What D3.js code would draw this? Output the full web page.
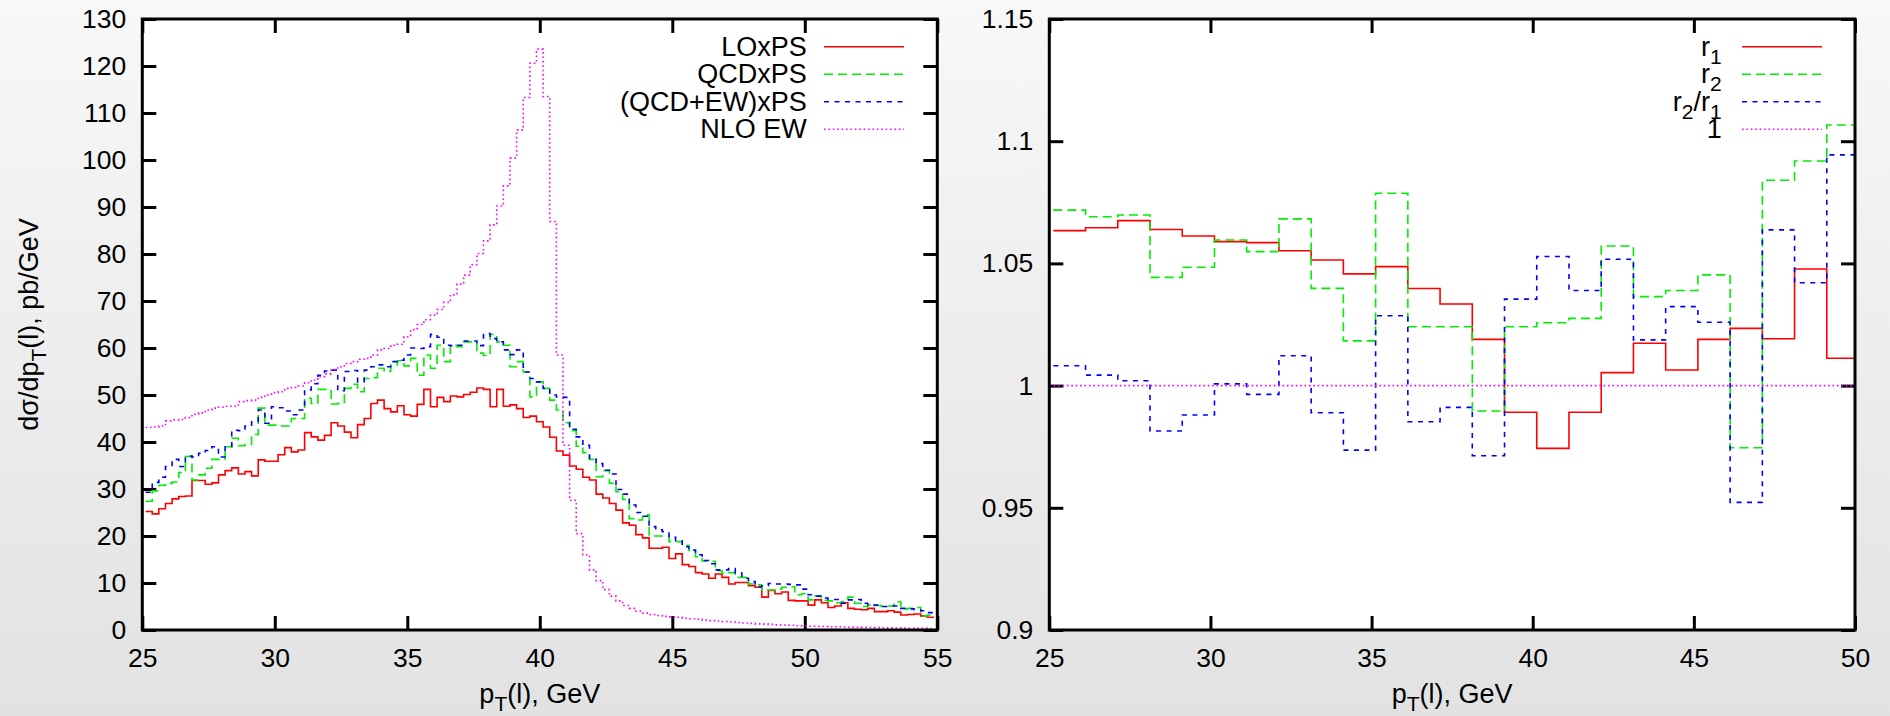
<!DOCTYPE html>
<html><head><meta charset="utf-8">
<script src="https://cdn.jsdelivr.net/npm/d3@7"></script>
<style>
html,body{margin:0;padding:0;background:#fff;}
svg{display:block;}
</style></head><body>
<svg id="chart" width="1890" height="716"></svg>
<script>
// ---------------- data: left panel (dsigma/dpT, 0.25 GeV bins) ----------------
const ptBinWidth = 0.25;
const ptCenters = d3.range(119).map(i => 25.25 + 0.25 * i);
const ptTicks = [25, 30, 35, 40, 45, 50, 55];
const xsTicks = [0, 10, 20, 30, 40, 50, 60, 70, 80, 90, 100, 110, 120, 130];

const loxps = [25.2,24.7,25.8,26.9,27.9,28.4,28.5,31.8,31.8,31.0,31.3,33.0,33.9,34.5,33.2,33.7,32.8,36.2,35.9,35.9,
  37.3,38.8,37.9,38.3,42.0,41.1,40.4,41.4,44.1,43.4,42.1,40.9,43.7,45.0,48.2,48.9,47.1,46.4,47.7,45.8,45.5,
  48.0,51.2,47.5,49.5,48.6,49.8,49.6,50.1,50.6,51.5,51.2,47.5,51.2,47.6,47.9,47.1,45.2,45.5,44.3,43.2,
  41.0,38.1,37.2,34.9,34.2,32.5,31.9,28.9,28.1,26.9,25.5,22.8,22.3,20.3,19.6,17.4,17.4,17.6,15.2,16.2,
  13.9,13.5,12.2,11.9,11.0,11.9,11.2,9.8,10.1,10.1,9.4,9.1,7.0,8.4,7.7,8.1,6.3,6.2,6.2,5.3,
  6.4,5.8,4.8,5.1,5.8,4.6,4.4,4.3,4.6,3.9,3.9,4.1,3.8,3.2,3.3,3.4,3.0,2.7];
const qcdxps = [27.4,29.6,30.8,31.2,31.5,33.5,36.9,31.9,33.0,34.4,36.3,36.3,39.0,40.8,39.2,39.5,41.6,47.2,43.6,43.6,
  43.4,43.4,45.0,45.0,49.3,48.2,51.2,51.2,48.1,48.2,51.4,52.3,50.7,53.5,53.7,55.7,55.0,56.4,57.3,56.2,57.8,
  54.2,58.5,55.7,60.6,57.1,60.6,60.3,61.3,61.3,58.9,58.4,62.9,61.3,60.6,56.0,57.1,54.9,49.6,52.8,51.4,
  48.9,46.8,44.1,42.4,39.1,37.7,36.3,32.6,33.9,31.2,29.4,27.8,23.7,23.4,24.5,20.0,20.0,20.0,18.8,18.8,
  18.0,16.9,15.6,14.7,14.6,12.6,12.1,12.2,11.2,11.2,9.8,9.6,8.5,8.5,8.7,9.1,9.2,7.5,7.7,6.4,
  7.2,6.3,6.2,5.8,6.0,7.0,5.7,5.0,5.3,5.2,5.0,5.1,6.0,4.5,4.6,4.8,3.0,3.2];
const qcdewxps = [29.3,31.4,32.5,34.8,36.3,34.8,37.0,36.8,37.6,38.2,39.0,36.8,39.0,42.5,42.4,43.4,44.3,46.8,44.0,47.5,
  47.3,46.6,45.8,46.8,51.1,52.4,54.2,55.1,55.3,50.9,55.0,55.2,52.8,55.3,56.0,56.4,56.0,57.1,57.4,58.5,60.0,
  59.9,60.3,62.9,62.3,60.6,60.5,60.6,61.5,61.5,60.5,63.1,62.0,61.3,59.6,58.6,59.6,54.9,53.5,52.8,51.4,
  50.0,49.6,49.5,42.7,41.1,39.3,36.3,35.4,34.0,33.2,29.9,28.9,26.6,25.0,24.2,22.0,21.3,20.9,19.7,19.0,
  17.7,17.0,16.0,14.8,14.1,12.8,12.8,13.1,12.1,11.0,10.3,9.2,9.4,9.9,9.8,9.8,9.7,9.6,8.7,7.5,
  7.2,6.8,6.5,6.5,5.7,6.4,6.5,5.7,5.3,5.3,5.0,5.1,5.1,4.6,4.5,4.3,4.1,3.7];
const nloew = [43.1,43.2,43.4,44.5,44.7,44.8,45.2,45.9,46.2,46.8,47.2,47.4,47.6,47.6,48.6,48.8,48.9,49.5,50.0,50.5,
  50.7,51.4,51.6,51.9,52.6,53.2,53.9,54.5,55.4,56.0,56.7,57.1,57.6,57.8,58.5,59.6,59.9,60.6,60.8,62.4,63.9,
  65.0,66.0,67.0,68.2,69.7,71.3,73.6,75.5,77.7,80.1,82.8,86.2,90.2,94.5,100.4,106.4,113.3,120.6,123.6,113.5,
  86.9,58.5,39.3,27.6,20.5,16.0,12.8,10.5,8.6,7.2,6.2,5.2,4.6,4.0,3.6,3.3,3.1,2.9,
  2.8,2.7,2.5,2.4,2.3,2.1,2.0,1.9,1.8,1.7,1.6,1.5,1.4,1.3,1.25,1.2,1.1,1.05,1.0,0.9,
  0.85,0.8,0.78,0.75,0.7,0.68,0.65,0.6,0.58,0.55,0.52,0.5,0.48,0.45,0.42,0.4,0.38,0.36,0.34,0.32];

// ---------------- data: right panel (ratios, 1 GeV bins) ----------------
const ratioBinWidth = 1;
const ratioCenters = d3.range(25).map(k => 25.625 + k);
const ratioXTicks = [25, 30, 35, 40, 45, 50];
const ratioYTicks = [0.9, 0.95, 1, 1.05, 1.1, 1.15];
const r1 = [1.0634,1.0646,1.0675,1.0639,1.0612,1.0589,1.0585,1.0552,1.0514,1.0457,1.0487,1.0397,1.0334,
  1.0189,0.9891,0.9743,0.9891,1.0053,1.0173,1.0064,1.0189,1.0234,1.0192,1.0477,1.0112];
const r2 = [1.0718,1.0691,1.0698,1.0443,1.0484,1.0596,1.0548,1.0682,1.0398,1.0183,1.0787,1.0241,1.0241,
  0.9896,1.0241,1.0257,1.0275,1.0571,1.0364,1.0389,1.0453,0.9746,1.0840,1.0919,1.1066];
const r2r1 = [1.0081,1.0043,1.0020,0.9814,0.9880,1.0007,0.9964,1.0122,0.9889,0.9736,1.0286,0.9852,0.9911,
  0.9713,1.0354,1.0528,1.0389,1.0517,1.0187,1.0323,1.0259,0.9522,1.0637,1.0421,1.0944];
const oneLine = [1, 1];

const leftLegend = ["LOxPS", "QCDxPS", "(QCD+EW)xPS", "NLO EW"];

// ---------------- drawing ----------------
const FONT = '"Liberation Sans", Arial, Helvetica, sans-serif';
const W = 1890, H = 716;
const SUB_DY = 8, SUB_SIZE = 21;
const svg = d3.select("#chart").attr("font-family", FONT);
const defs = svg.append("defs");
const grad = defs.append("linearGradient").attr("id", "bg")
  .attr("x1", 0).attr("y1", 0).attr("x2", 0).attr("y2", 1);
grad.append("stop").attr("offset", "0%").attr("stop-color", "#f8f8f8");
grad.append("stop").attr("offset", "100%").attr("stop-color", "#e2e2e2");
svg.append("rect").attr("width", W).attr("height", H).attr("fill", "url(#bg)");

const styles = [
  {color: "#ff0000", dash: null},
  {color: "#00ee00", dash: "9,5"},
  {color: "#0000ff", dash: "5,5.5"},
  {color: "#ff00ff", dash: "1.6,2.8"}
];

function panel(o) {
  const x = d3.scaleLinear().domain(o.xDomain).range([o.x0, o.x1]);
  const y = d3.scaleLinear().domain(o.yDomain).range([o.y1, o.y0]);
  const g = svg.append("g");
  g.append("rect").attr("x", o.x0).attr("y", o.y0)
    .attr("width", o.x1 - o.x0).attr("height", o.y1 - o.y0).attr("fill", "#fff");
  defs.append("clipPath").attr("id", o.id).append("rect")
    .attr("x", o.x0).attr("y", o.y0).attr("width", o.x1 - o.x0).attr("height", o.y1 - o.y0);
  const ax = (axis, tr) => {
    const a = g.append("g").attr("transform", tr).call(axis);
    a.select(".domain").remove();
    a.attr("font-size", 26.5).attr("font-family", FONT);
    a.selectAll(".tick line").attr("stroke", "#000").attr("stroke-width", 3);
    a.selectAll(".tick text").attr("fill", "#000");
    a.selectAll(".tick text").filter(function () { return this.textContent === ""; }).remove();
    return a;
  };
  ax(d3.axisBottom(x).tickValues(o.xTicks).tickSize(-14).tickPadding(18).tickFormat(d3.format("d")),
     `translate(0,${o.y1})`);
  ax(d3.axisTop(x).tickValues(o.xTicks).tickSize(-14).tickFormat(""), `translate(0,${o.y0})`);
  ax(d3.axisLeft(y).tickValues(o.yTicks).tickSize(-14).tickPadding(16).tickFormat(o.yFmt),
     `translate(${o.x0},0)`);
  ax(d3.axisRight(y).tickValues(o.yTicks).tickSize(-14).tickFormat(""), `translate(${o.x1},0)`);
  const data = g.append("g").attr("clip-path", `url(#${o.id})`);
  g.append("rect").attr("x", o.x0).attr("y", o.y0)
    .attr("width", o.x1 - o.x0).attr("height", o.y1 - o.y0)
    .attr("fill", "none").attr("stroke", "#000").attr("stroke-width", 3);
  return {x, y, g, data};
}

function histPath(p, centers, width, values, st) {
  const pts = centers.map((c, i) => [c - width / 2, values[i]]);
  pts.push([centers[centers.length - 1] + width / 2, values[values.length - 1]]);
  const line = d3.line().x(d => p.x(d[0])).y(d => p.y(d[1])).curve(d3.curveStepAfter);
  p.data.append("path").attr("d", line(pts)).attr("fill", "none")
    .attr("stroke", st.color).attr("stroke-width", 1.6)
    .attr("stroke-dasharray", st.dash);
}

// rich text with subscripts, no empty tspans
function richText(sel, parts) {
  let shifted = false;
  parts.forEach(pt => {
    const ts = sel.append("tspan").text(pt.t);
    if (pt.sub) {
      ts.attr("font-size", SUB_SIZE);
      if (!shifted) { ts.attr("dy", SUB_DY); shifted = true; }
    } else if (shifted) {
      ts.attr("dy", -SUB_DY); shifted = false;
    }
  });
}

function legendRow(g, xText, xl0, xl1, yRow, parts, st) {
  const t = g.append("text").attr("x", xText).attr("y", yRow).attr("dy", "0.33em")
    .attr("text-anchor", "end").attr("font-size", 27).attr("fill", "#000");
  richText(t, parts);
  g.append("line").attr("x1", xl0).attr("x2", xl1).attr("y1", yRow).attr("y2", yRow)
    .attr("stroke", st.color).attr("stroke-width", 1.6).attr("stroke-dasharray", st.dash);
}

const rowsY = [46.7, 74.2, 101.7, 129.2];

// ---- left panel ----
const L = panel({id: "clipL", x0: 142.3, x1: 937.3, y0: 19, y1: 630,
  xDomain: [25, 55], yDomain: [0, 130], xTicks: ptTicks, yTicks: xsTicks, yFmt: d3.format("d")});
[loxps, qcdxps, qcdewxps, nloew].forEach((s, k) => histPath(L, ptCenters, ptBinWidth, s, styles[k]));
leftLegend.forEach((name, k) => legendRow(L.g, 806.7, 824, 904, rowsY[k], [{t: name}], styles[k]));
richText(L.g.append("text").attr("x", (142.3 + 937.3) / 2).attr("y", 703)
  .attr("text-anchor", "middle").attr("font-size", 27).attr("fill", "#000"),
  [{t: "p"}, {t: "T", sub: true}, {t: "(l), GeV"}]);
richText(L.g.append("text").attr("transform", "translate(38,324.5) rotate(-90)")
  .attr("text-anchor", "middle").attr("font-size", 27).attr("fill", "#000"),
  [{t: "d\u03c3/dp"}, {t: "T", sub: true}, {t: "(l), pb/GeV"}]);

// ---- right panel ----
const R = panel({id: "clipR", x0: 1049.3, x1: 1855, y0: 19, y1: 630,
  xDomain: [25, 50], yDomain: [0.9, 1.15], xTicks: ratioXTicks, yTicks: ratioYTicks,
  yFmt: d => String(+d.toFixed(2))});
[r1, r2, r2r1].forEach((s, k) => histPath(R, ratioCenters, ratioBinWidth, s, styles[k]));
R.data.append("path")
  .attr("d", d3.line().x(d => R.x(d[0])).y(d => R.y(d[1]))([[25, oneLine[0]], [50, oneLine[1]]]))
  .attr("fill", "none").attr("stroke", styles[3].color).attr("stroke-width", 1.6)
  .attr("stroke-dasharray", styles[3].dash);
const rightLegend = [
  [{t: "r"}, {t: "1", sub: true}],
  [{t: "r"}, {t: "2", sub: true}],
  [{t: "r"}, {t: "2", sub: true}, {t: "/r"}, {t: "1", sub: true}],
  [{t: "1"}]
];
rightLegend.forEach((parts, k) => legendRow(R.g, 1721.7, 1742, 1822, rowsY[k], parts, styles[k]));
richText(R.g.append("text").attr("x", (1049.3 + 1855) / 2).attr("y", 703)
  .attr("text-anchor", "middle").attr("font-size", 27).attr("fill", "#000"),
  [{t: "p"}, {t: "T", sub: true}, {t: "(l), GeV"}]);
</script>
</body></html>
